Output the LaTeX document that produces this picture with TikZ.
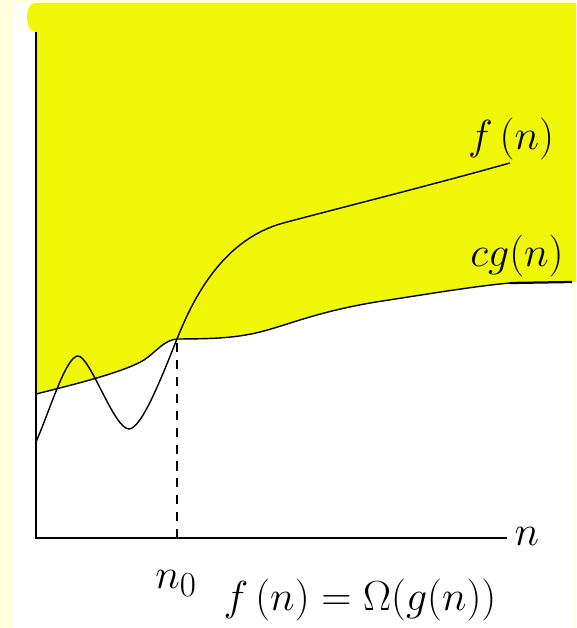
\documentclass[tikz,border=0pt]{standalone}
\usepackage{amsmath}
\usetikzlibrary{positioning, calc}
\definecolor{crema}{RGB}{255,255,221}
\definecolor{giallo}{RGB}{240,248,8}
\tikzset{etichetta/.style={font=\Huge, scale=1.2, inner sep=0pt, anchor=base}}

\begin{document}
\begin{tikzpicture}[line width=1pt]
        \useasboundingbox (-0.9,-2.25) rectangle (13.5,13.45);
        %sfondo
        \fill[crema] (-0.9,-2.25) rectangle (13.5,13.45);
        \fill[white] (-0.55,-2.25) rectangle (13.425,13.375);
        %regione sopra cg(n)
        \fill[giallo] (0,3.6) .. controls (1,3.85) and (2.2,4.15) .. (2.7,4.45)
            .. controls (3.0,4.65) and (3.2,4.95) .. (3.525,4.975)
            .. controls (4.2,4.98) and (4.9,4.975) .. (5.6,5.15)
            .. controls (6.3,5.325) and (7,5.65) .. (8.5,5.9)
            .. controls (9.8,6.1) and (11,6.3) .. (11.85,6.375)
            -- (13.4,6.4) -- (13.5,6.4) -- (13.5,13.375) -- (0.05,13.375)
            .. controls (-0.22,13.375) and (-0.22,13.2) .. (-0.22,13.0)
            .. controls (-0.22,12.75) and (-0.1,12.65) .. (0,12.65) -- cycle;

        %assi
        \coordinate (O) at (0,0);
        \coordinate (ytop) at (0,12.65);
        \coordinate (xend) at (11.775,0);
        \draw (ytop) -- (O) -- (xend);

        %curva cg(n)
        \coordinate (cgstart) at (0,3.6);
        \coordinate (cross) at (3.525,4.975);
        \coordinate (cgend) at (11.85,6.375);
        \coordinate (cgtail) at (13.4,6.4);
        \draw (cgstart) .. controls (1,3.85) and (2.2,4.15) .. (2.7,4.45)
            .. controls (3.0,4.65) and (3.2,4.95) .. (cross)
            .. controls (4.2,4.98) and (4.9,4.975) .. (5.6,5.15)
            .. controls (6.3,5.325) and (7,5.65) .. (8.5,5.9)
            .. controls (9.8,6.1) and (11,6.3) .. (cgend);
        \draw[line width=1.6pt] (cgend) -- (cgtail);

        %curva f(n)
        \coordinate (fstart) at (0,2.4);
        \coordinate (fend) at (11.85,9.375);
        \draw (fstart) .. controls (0.35,3.2) and (0.75,4.55) .. (1.05,4.55)
            .. controls (1.35,4.55) and (1.95,2.725) .. (2.325,2.725)
            .. controls (2.65,2.725) and (3.2,4.17) .. (cross)
            .. controls (3.95,6.05) and (4.7,7.48) .. (6.2,7.88)
            .. controls (7.9,8.33) and (9.6,8.75) .. (fend);

        %tratteggio n0
        \coordinate (foot) at (3.525,0);
        \draw[line width=1.2pt, dash pattern=on 6.5pt off 5.5pt] (foot) -- (cross);

        %label
        \node[etichetta] (lblF) at (11.875,9.7) {$f\,(n)$};
        \node[etichetta] (lblCG) at (12.025,6.775) {$cg(n)$};
        \node[etichetta] (lblN) at (12.275,-0.175) {$n$};
        \node[etichetta] (lblNzero) at (3.5,-1.25) {$n_0$};
        \node[etichetta] (lblOmega) at (8.1,-1.8) {$f\,(n)=\Omega(g(n))$};
    \end{tikzpicture}
\end{document}
